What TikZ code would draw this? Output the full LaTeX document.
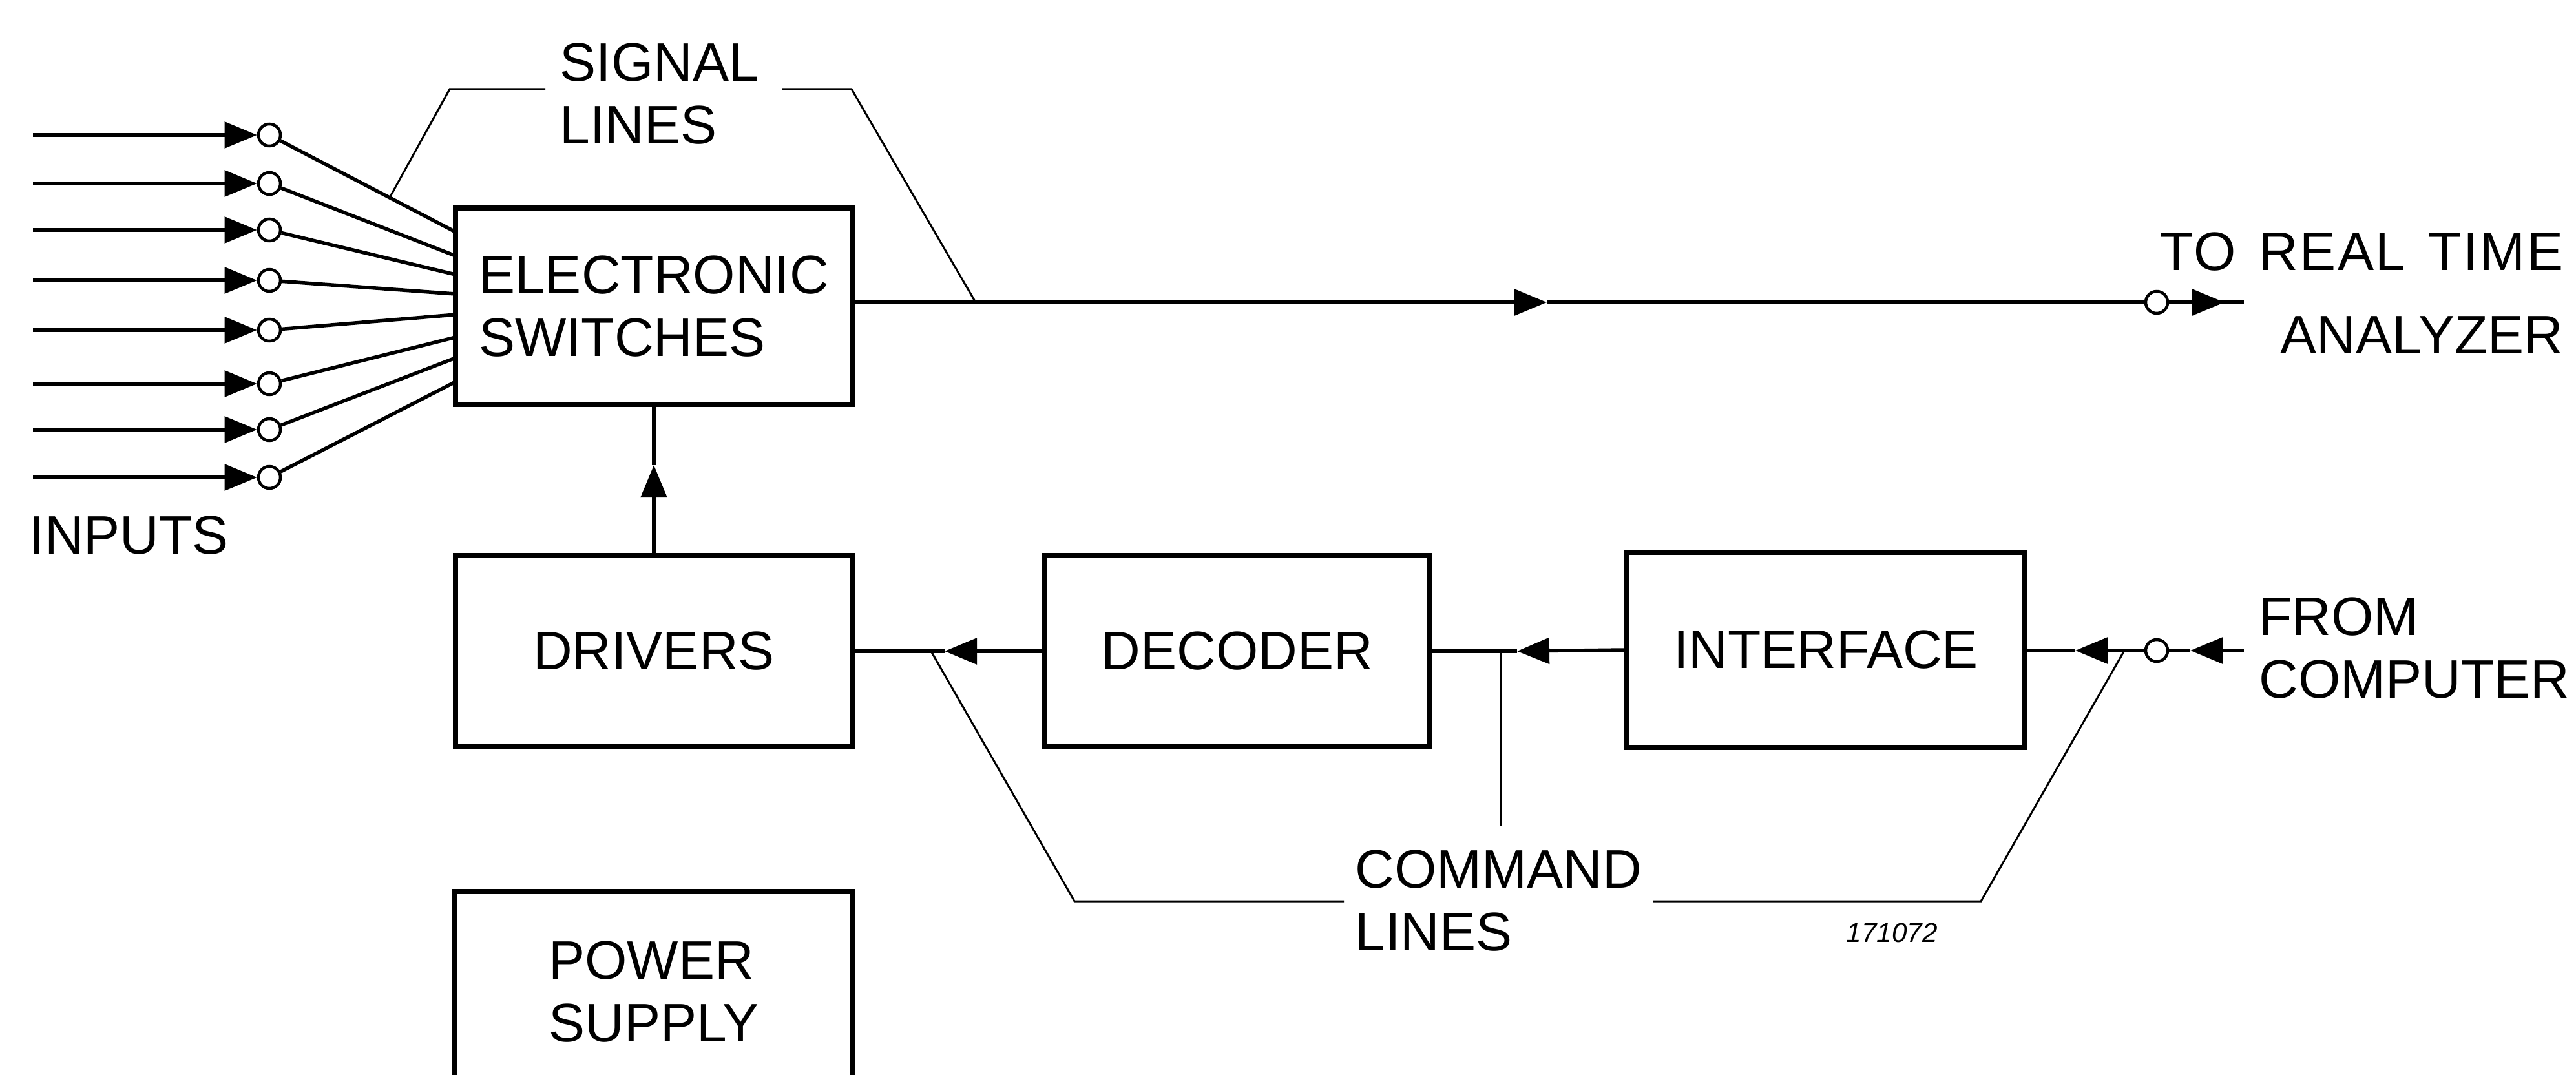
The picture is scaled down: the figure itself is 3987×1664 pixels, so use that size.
\documentclass[tikz,border=0pt]{standalone}
\usepackage{fontspec}
\setmainfont{Liberation Sans}
\usetikzlibrary{arrows.meta}
\newcommand\lblfont{\fontsize{23.9pt}{27.6pt}\selectfont}
\begin{document}
\begin{tikzpicture}[x=0.01cm, y=-0.01cm,
  box/.style={draw, line width=0.08cm, inner sep=0pt, minimum width=6.14cm,
    minimum height=2.96cm, align=left, font=\lblfont},
  term/.style={circle, draw, line width=0.045cm, minimum size=0.34cm,
    inner sep=0pt, fill=white},
  wire/.style={line width=0.055cm},
  tip/.style={-{Triangle[length=0.5cm,width=0.4cm]}},
  leader/.style={line width=0.03cm},
  lbl/.style={inner sep=0pt, font=\lblfont}]
\useasboundingbox (0,0) rectangle (3987,1664);
\fill[white] (0,0) rectangle (3987,1664);
\clip (0,0) rectangle (3987,1664);

% blocks
\node[box, minimum height=3.04cm] (sw) at (1012,474) {ELECTRONIC\\SWITCHES};
\node[box] (drv) at (1012,1008) {DRIVERS};
\node[box, minimum width=5.96cm] (dec) at (1915,1008) {DECODER};
\node[box, minimum width=6.15cm, minimum height=3.02cm] (itf) at (2826,1006) {INTERFACE};
\node[box, minimum width=6.15cm, minimum height=3.1cm] (pwr) at (1012,1535) {POWER\\SUPPLY};

% eight input channels into the switches
\foreach \i/\yy/\ey in {1/209/359, 2/284/396, 3/356/425, 4/434/455,
                        5/511/487, 6/594/522, 7/665/554, 8/739/591} {
  \coordinate (in\i) at (51,\yy);
  \node[term] (c\i) at (417,\yy) {};
  \coordinate (e\i) at (705,\ey);
  \draw[wire,tip] (in\i) -- (c\i);
  \draw[wire] (c\i) -- (e\i);
}

% output to the real time analyzer
\coordinate (m1) at (2394,468);
\node[term] (o1) at (3338,468) {};
\coordinate (otip) at (3443,468);
\coordinate (oend) at (3473,468);
\draw[wire,tip] (sw.east |- m1) -- (m1);
\draw[wire] (m1) -- (o1);
\draw[wire] (o1) -- (oend);
\draw[wire,tip] (o1) -- (otip);

% drivers to switches
\coordinate (vtip) at (1012,720);
\draw[wire,tip] (drv.north) -- (vtip);
\draw[wire] (vtip) -- (sw.south);

% command path
\coordinate (tdd) at (1462,1008);
\draw[wire,tip] (dec.west) -- (tdd);
\draw[wire] (tdd) -- (drv.east);
\coordinate (tid) at (2348,1008);
\draw[wire,tip] (itf.west) -- (tid);
\draw[wire] (tid) -- (dec.east);
\node[term] (o2) at (3338,1007) {};
\coordinate (cin) at (3473,1007);
\coordinate (t3) at (3390,1007);
\coordinate (t4) at (3212,1007);
\draw[wire,tip] (cin) -- (t3);
\draw[wire] (t3) -- (o2);
\draw[wire,tip] (o2) -- (t4);
\draw[wire] (t4) -- (itf.east |- t4);

% labels
\node[lbl, anchor=north west, align=left] (sig) at (866,66) {SIGNAL\\LINES};
\node[lbl, anchor=north west] (inp) at (45,798) {INPUTS};
\node[lbl, anchor=north east, align=right] (rta) at (3968,359)
  {\addfontfeature{LetterSpace=3}TO\hspace{0.42em}REAL\hspace{0.42em}TIME\\[0.32cm]ANALYZER};
\node[lbl, anchor=north east, align=left] (frm) at (3978,924) {FROM\\COMPUTER};
\node[lbl, anchor=north west, align=left] (cmd) at (2097,1315) {COMMAND\\LINES};
\node[inner sep=0pt, anchor=north west, font=\fontsize{12pt}{14pt}\selectfont\itshape] (ref) at (2857,1428) {171072};

% leader lines for the signal lines
\coordinate (sa) at (603,306);
\coordinate (sb) at (696,138);
\coordinate (sc) at (844,138);
\coordinate (sd) at (1210,138);
\coordinate (se) at (1318,138);
\coordinate (sf) at (1510,468);
\draw[leader] (sa) -- (sb) -- (sc);
\draw[leader] (sd) -- (se) -- (sf);

% leader lines for the command lines
\coordinate (ca) at (1441,1008);
\coordinate (cb) at (1663,1395);
\coordinate (cc) at (2080,1395);
\coordinate (cd) at (2559,1395);
\coordinate (ce) at (3066,1395);
\coordinate (cf) at (3288,1007);
\coordinate (cg) at (2322,1008);
\coordinate (ch) at (2322,1279);
\draw[leader] (ca) -- (cb) -- (cc);
\draw[leader] (cd) -- (ce) -- (cf);
\draw[leader] (cg) -- (ch);
\end{tikzpicture}
\end{document}
